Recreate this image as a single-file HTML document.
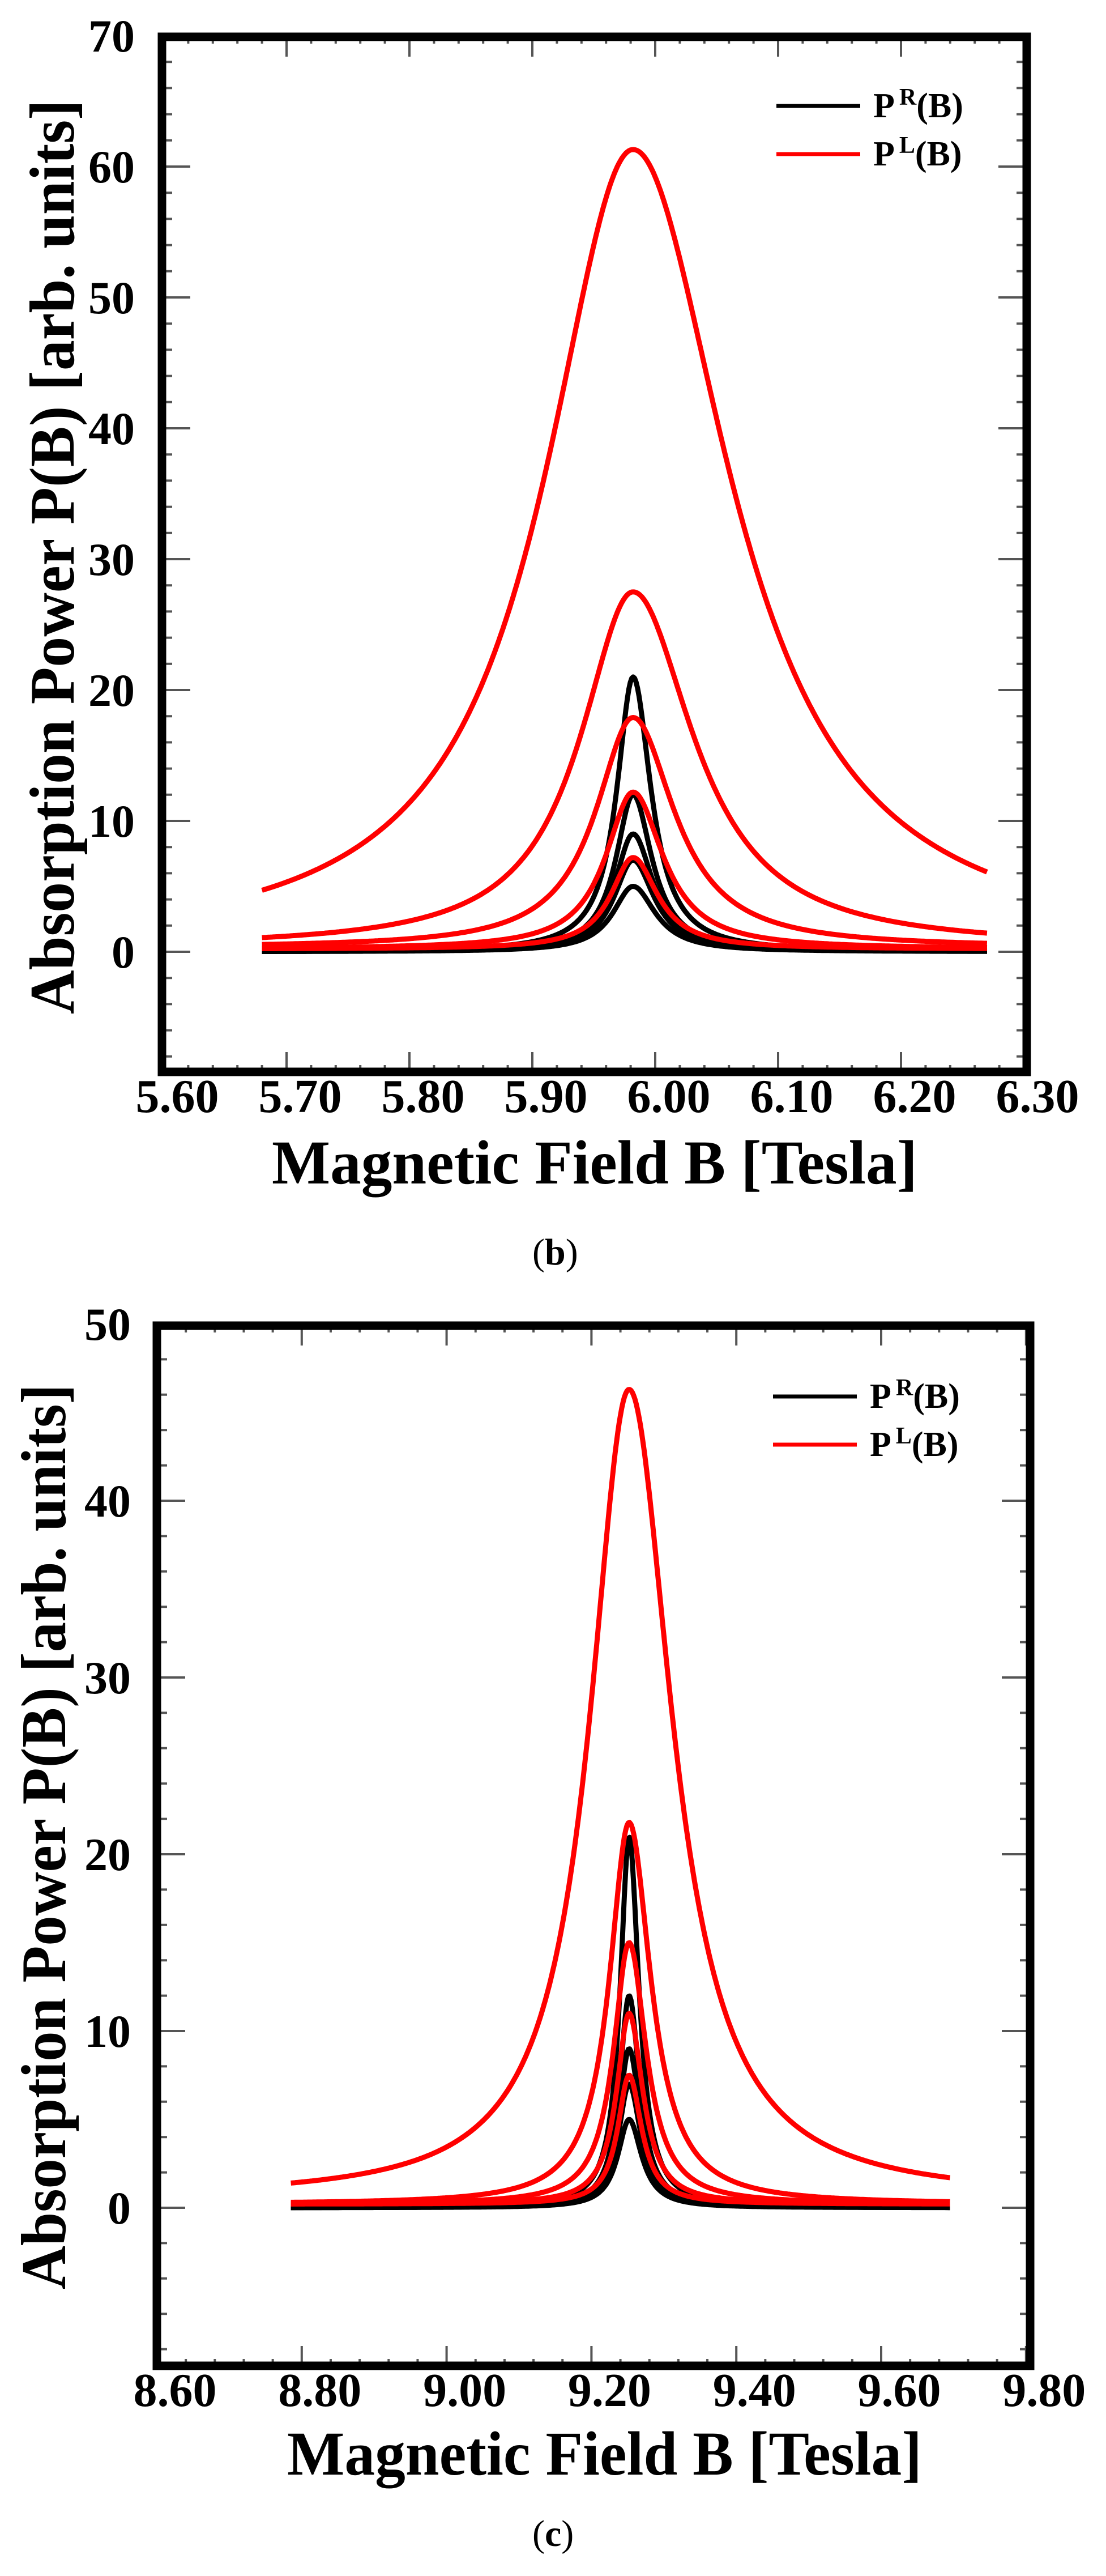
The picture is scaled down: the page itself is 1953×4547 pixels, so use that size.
<!DOCTYPE html>
<html><head><meta charset="utf-8"><style>
html,body{margin:0;padding:0;background:#fff;}
svg{display:block;}
text{font-family:"Liberation Serif",serif;font-weight:bold;fill:#000;}
</style></head><body>
<svg id="s" width="1953" height="4547" xmlns="http://www.w3.org/2000/svg"></svg>
<script>
const NS="http://www.w3.org/2000/svg",S=document.getElementById('s');
function el(t,a,txt){const e=document.createElementNS(NS,t);for(const k in a)e.setAttribute(k,a[k]);if(txt!==undefined)e.textContent=txt;S.appendChild(e);return e;}
function plot(P){
 const X=v=>P.xo+(v-P.xa)*P.xs;
 const Y=v=>P.yz-v*P.ppu;
 const draw=(c,col)=>{let d="";for(let i=0;i<=500;i++){const b=P.cs+(P.ce-P.cs)*i/500;const dx=b-P.pk;const g=dx<0?c[1]:c[1]*c[2];const v=c[0]/(1+(dx/g)*(dx/g))+(c[3]||0);d+=(i?"L":"M")+X(b).toFixed(1)+","+Y(v).toFixed(1);}el('path',{d:d,fill:'none',stroke:col,'stroke-width':9,'stroke-linejoin':'round'});};
 P.black.forEach(c=>draw(c,'#000'));
 P.red.forEach(c=>draw(c,'#f00'));
 let d="";
 for(let v=P.yMin;v<=P.yMax+1e-9;v+=P.ym){const y=Y(v);if(y<P.y0+5||y>P.y1-5)continue;const maj=Math.abs(v/P.yM-Math.round(v/P.yM))<1e-6;const L=maj?50:18;d+=`M${P.x0},${y}h${L}M${P.x1},${y}h${-L}`;}
 for(let v=P.xa;v<=P.xb+1e-9;v+=P.xm){const x=X(v);if(x<P.x0+5||x>P.x1-5)continue;const maj=Math.abs((v-P.xa)/P.xM-Math.round((v-P.xa)/P.xM))<1e-6;const L=maj?35:12;d+=`M${x},${P.y1}v${-L}M${x},${P.y0}v${L}`;}
 el('path',{d:d,stroke:'#555','stroke-width':4,fill:'none'});
 el('rect',{x:P.x0,y:P.y0,width:P.x1-P.x0,height:P.y1-P.y0,fill:'none',stroke:'#000','stroke-width':15});
 for(let v=0;v<=P.yMax+1e-9;v+=P.yM){el('text',{x:P.ylx,y:Y(v)+28,'text-anchor':'end','font-size':82},String(v));}
 for(let v=P.xa;v<=P.xb+1e-9;v+=P.xM){el('text',{x:X(v)+P.xlo,y:P.xly,'text-anchor':'middle','font-size':84},v.toFixed(2));}
 el('text',{x:P.tx0,y:P.ty,'font-size':110,textLength:P.tl,lengthAdjust:'spacingAndGlyphs'},'Magnetic Field B [Tesla]');
 el('text',{x:0,y:0,'font-size':112,textLength:P.yl,lengthAdjust:'spacingAndGlyphs',transform:`translate(${P.yx},${P.yb}) rotate(-90)`},'Absorption Power P(B) [arb. units]');
 const c=el('text',{x:940,y:P.cy,'font-size':66});c.innerHTML='<tspan style="font-weight:normal">(</tspan>'+P.lab+'<tspan style="font-weight:normal">)</tspan>';
 el('line',{x1:P.lx,x2:P.lx+148,y1:P.ly,y2:P.ly,stroke:'#000','stroke-width':7});
 el('line',{x1:P.lx,x2:P.lx+148,y1:P.ly+85,y2:P.ly+85,stroke:'#f00','stroke-width':7});
 const t1=el('text',{x:P.lx+171,y:P.ly+20,'font-size':62});t1.innerHTML='P<tspan dx="8" dy="-22" font-size="42">R</tspan><tspan dy="22">(B)</tspan>';
 const t2=el('text',{x:P.lx+171,y:P.ly+105,'font-size':62});t2.innerHTML='P<tspan dx="8" dy="-22" font-size="42">L</tspan><tspan dy="22">(B)</tspan>';
}
plot({x0:286,x1:1813,y0:65,y1:1892,xo:289,xs:2170,xa:5.6,xb:6.3,xM:0.1,xm:0.02,yz:1680,ppu:23.1,yMin:-10,yMax:70,yM:10,ym:2,
 cs:5.68,ce:6.27,pk:5.982,
 red:[[61.3,0.087,1.1],[27.2,0.052,1.15,0.3],[17.6,0.037,1.1,0.3],[12.0,0.027,1.1,0.2],[7.0,0.022,1.1,0.2]],
 black:[[21,0.016,1.1],[12,0.017,1.1],[9,0.018,1.1],[7,0.019,1.1],[5,0.02,1.1]],
 ylx:238,xlo:24,xly:1963,tx0:480,tl:1140,ty:2089,yx:130,yb:1790,yl:1614,cy:2232,lab:'b',lx:1371,ly:187});
plot({x0:277,x1:1819,y0:2340,y1:4176,xo:277,xs:1279,xa:8.6,xb:9.8,xM:0.2,xm:0.04,yz:3897,ppu:31.2,yMin:-10,yMax:50,yM:10,ym:2,
 cs:8.785,ce:9.695,pk:9.252,
 red:[[45.8,0.066,1.1,0.5],[21.6,0.033,1.1,0.2],[14.8,0.026,1.1,0.2],[10.8,0.021,1.1,0.2],[7.3,0.019,1.1,0.2]],
 black:[[21,0.015,1.1],[12,0.016,1.1],[9,0.017,1.1],[7,0.018,1.1],[5,0.019,1.1]],
 ylx:231,xlo:32,xly:4247,tx0:507,tl:1121,ty:4368,yx:115,yb:4041,yl:1598,cy:4494,lab:'c',lx:1365,ly:2465});
</script>
</body></html>
